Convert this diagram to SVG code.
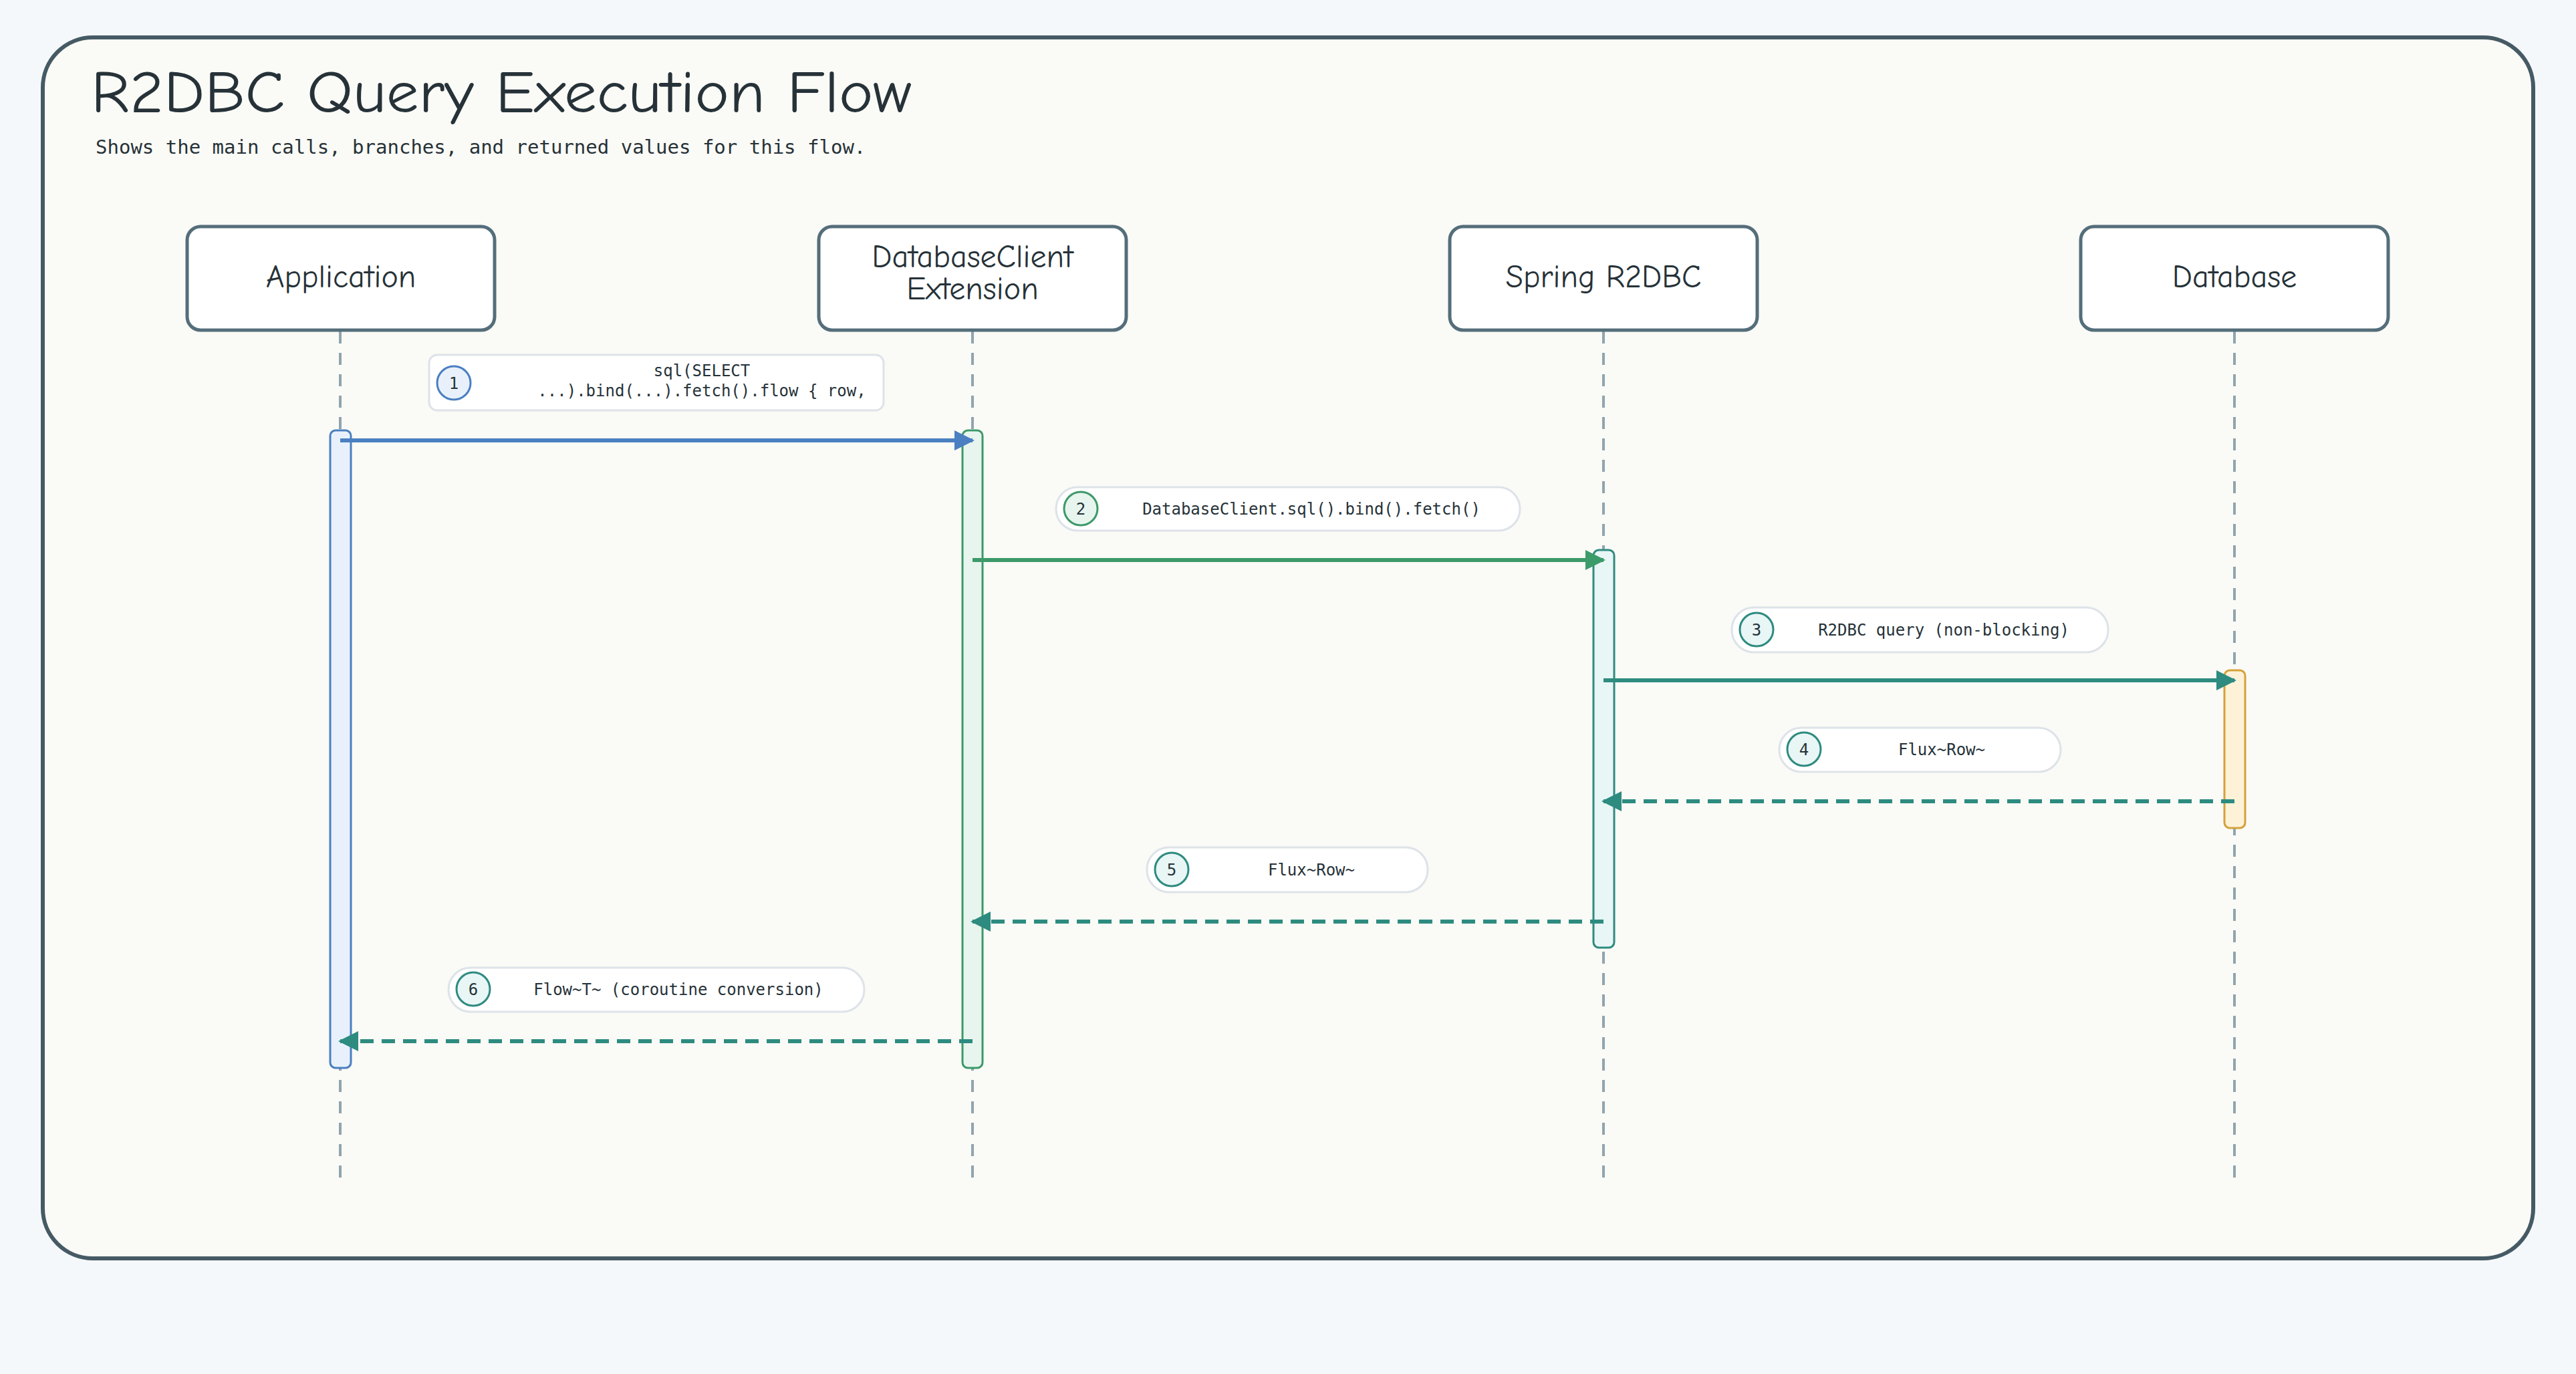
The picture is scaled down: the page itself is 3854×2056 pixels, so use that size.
<svg xmlns="http://www.w3.org/2000/svg" width="3854" height="2056" viewBox="0 0 3854 2056">
<defs>
<style>
.hand{font-family:"Comic Neue","Liberation Sans",sans-serif;fill:#263238}
.mono{font-family:"DejaVu Sans Mono","Liberation Mono",monospace;fill:#263238}
.box{fill:#ffffff;stroke:#546e7a;stroke-width:5}
.life{stroke:#90a4ae;stroke-width:4;stroke-dasharray:18 14;fill:none}
.lbl{fill:#ffffff;stroke:#dde3e8;stroke-width:3}
.num{font-family:"DejaVu Sans Mono","Liberation Mono",monospace;font-size:24px;fill:#263238;text-anchor:middle}
.msg{font-size:24px;text-anchor:middle}
</style>
<marker id="aB" viewBox="0 0 10 10" refX="9" refY="5" markerWidth="5" markerHeight="5" orient="auto"><path d="M0,0L10,5L0,10z" fill="#4a7fc1"/></marker>
<marker id="aG" viewBox="0 0 10 10" refX="9" refY="5" markerWidth="5" markerHeight="5" orient="auto"><path d="M0,0L10,5L0,10z" fill="#3d9a6a"/></marker>
<marker id="aT" viewBox="0 0 10 10" refX="9" refY="5" markerWidth="5" markerHeight="5" orient="auto"><path d="M0,0L10,5L0,10z" fill="#2e8b80"/></marker>
</defs>
<rect width="3854" height="2056" fill="#f5f8fa"/>
<rect x="64" y="56" width="3726" height="1827" rx="75" fill="#fafaf6" stroke="#455a64" stroke-width="6"/>
<text class="hand" x="136" y="168" font-size="88" textLength="1228" lengthAdjust="spacingAndGlyphs">R2DBC Query Execution Flow</text>
<text class="mono" x="143" y="230" font-size="29">Shows the main calls, branches, and returned values for this flow.</text>

<g id="lifelines">
<line class="life" x1="509" y1="496" x2="509" y2="1770"/>
<line class="life" x1="1455" y1="496" x2="1455" y2="1770"/>
<line class="life" x1="2399" y1="496" x2="2399" y2="1770"/>
<line class="life" x1="3343" y1="496" x2="3343" y2="1770"/>
</g>

<g id="p-application"><rect class="box" x="280" y="339" width="460" height="155" rx="20"/><text class="hand" x="510" y="430" font-size="48" text-anchor="middle">Application</text></g>
<g id="p-dbclient"><rect class="box" x="1225" y="339" width="460" height="155" rx="20"/><text class="hand" x="1455" y="400" font-size="48" text-anchor="middle">DatabaseClient</text><text class="hand" x="1455" y="448" font-size="48" text-anchor="middle">Extension</text></g>
<g id="p-spring"><rect class="box" x="2169" y="339" width="460" height="155" rx="20"/><text class="hand" x="2399" y="430" font-size="48" text-anchor="middle">Spring R2DBC</text></g>
<g id="p-database"><rect class="box" x="3113" y="339" width="460" height="155" rx="20"/><text class="hand" x="3343" y="430" font-size="48" text-anchor="middle">Database</text></g>

<g id="activations">
<rect x="494" y="644" width="31" height="954" rx="8" fill="#e8f1fb" stroke="#4a7fc1" stroke-width="3"/>
<rect x="1440" y="644" width="30" height="954" rx="8" fill="#e8f5ee" stroke="#3d9a6a" stroke-width="3"/>
<rect x="2384" y="823" width="31" height="595" rx="8" fill="#e8f6f5" stroke="#2e8b80" stroke-width="3"/>
<rect x="3328" y="1003" width="31" height="236" rx="8" fill="#fdf2d8" stroke="#d4a23a" stroke-width="3"/>
</g>

<g id="connectors" fill="none" stroke-width="6">
<line x1="509" y1="659" x2="1455" y2="659" stroke="#4a7fc1" marker-end="url(#aB)"/>
<line x1="1455" y1="838" x2="2399" y2="838" stroke="#3d9a6a" marker-end="url(#aG)"/>
<line x1="2399" y1="1018" x2="3343" y2="1018" stroke="#2e8b80" marker-end="url(#aT)"/>
<line x1="3343" y1="1199" x2="2399" y2="1199" stroke="#2e8b80" stroke-dasharray="20 12" marker-end="url(#aT)"/>
<line x1="2399" y1="1379" x2="1455" y2="1379" stroke="#2e8b80" stroke-dasharray="20 12" marker-end="url(#aT)"/>
<line x1="1455" y1="1558" x2="509" y2="1558" stroke="#2e8b80" stroke-dasharray="20 12" marker-end="url(#aT)"/>
</g>

<g id="label-1"><rect class="lbl" x="642" y="531" width="680" height="83" rx="12"/><circle cx="679" cy="573" r="25" fill="#e8f1fb" stroke="#4a7fc1" stroke-width="3"/><text class="num" x="679" y="582">1</text><text class="mono msg" x="1050" y="563">sql(SELECT</text><text class="mono msg" x="1050" y="593">...).bind(...).fetch().flow { row,</text></g>
<g id="label-2"><rect class="lbl" x="1580" y="729" width="694" height="65" rx="32"/><circle cx="1617" cy="761" r="25" fill="#e8f5ee" stroke="#3d9a6a" stroke-width="3"/><text class="num" x="1617" y="770">2</text><text class="mono msg" x="1962" y="770">DatabaseClient.sql().bind().fetch()</text></g>
<g id="label-3"><rect class="lbl" x="2591" y="909" width="563" height="67" rx="33"/><circle cx="2628" cy="942" r="25" fill="#e8f6f5" stroke="#2e8b80" stroke-width="3"/><text class="num" x="2628" y="951">3</text><text class="mono msg" x="2908" y="951">R2DBC query (non-blocking)</text></g>
<g id="label-4"><rect class="lbl" x="2662" y="1089" width="421" height="66" rx="33"/><circle cx="2699" cy="1121" r="25" fill="#e8f6f5" stroke="#2e8b80" stroke-width="3"/><text class="num" x="2699" y="1130">4</text><text class="mono msg" x="2905" y="1130">Flux~Row~</text></g>
<g id="label-5"><rect class="lbl" x="1716" y="1268" width="420" height="67" rx="33"/><circle cx="1753" cy="1301" r="25" fill="#e8f6f5" stroke="#2e8b80" stroke-width="3"/><text class="num" x="1753" y="1310">5</text><text class="mono msg" x="1962" y="1310">Flux~Row~</text></g>
<g id="label-6"><rect class="lbl" x="671" y="1448" width="622" height="66" rx="33"/><circle cx="708" cy="1480" r="25" fill="#e8f6f5" stroke="#2e8b80" stroke-width="3"/><text class="num" x="708" y="1489">6</text><text class="mono msg" x="1015" y="1489">Flow~T~ (coroutine conversion)</text></g>
</svg>
